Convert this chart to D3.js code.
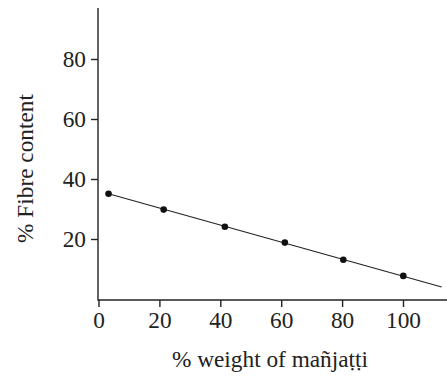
<!DOCTYPE html>
<html>
<head>
<meta charset="utf-8">
<script src="https://cdn.jsdelivr.net/npm/d3@7"></script>
<style>
	body { margin: 0; background: #fff; }
	svg { display: block; }
	text { font-family: "Liberation Serif", "DejaVu Serif", serif; fill: #222; }
</style>
</head>
<body>
<script>
// measured points
let weight = [3.3, 21.4, 41.5, 61.2, 80.4, 100.1]
let fibre = [35.1, 29.8, 24.1, 18.8, 13.1, 7.7]

// fitted line ends
let fitX = [3.3, 112.7]
let fitY = [35.1, 4.0]

let xTicks = [0, 20, 40, 60, 80, 100]
let yTicks = [20, 40, 60, 80]

let width = 447, height = 379
let fontSize = '23.3px'

let x = d3.scaleLinear().domain([0, 100]).range([98.5, 403])
let y = d3.scaleLinear().domain([0, 97]).range([299, 8])

let svg = d3.select('body').append('svg')
	.attr('width', width).attr('height', height)

// x axis
let xAxis = d3.axisBottom(x).tickValues(xTicks).tickSize(7).tickPadding(4).tickSizeOuter(0)
let gx = svg.append('g')
	.attr('transform', 'translate(0,300)')
	.call(xAxis)
gx.select('.domain').attr('d', `M${x(0) - 0.5},0H${width}`)
gx.selectAll('line, path').attr('stroke', '#222').attr('stroke-width', 1.4)
gx.selectAll('text').style('font-size', fontSize).style('font-family', '"Liberation Serif", serif').attr('fill', '#222')

// y axis
let yAxis = d3.axisLeft(y).tickValues(yTicks).tickSize(7).tickPadding(5).tickSizeOuter(0)
let gy = svg.append('g')
	.attr('transform', 'translate(98,0)')
	.call(yAxis)
gy.select('.domain').attr('d', `M0,${y(97)}V300.7`)
gy.selectAll('line, path').attr('stroke', '#222').attr('stroke-width', 1.4)
gy.selectAll('text').style('font-size', fontSize).style('font-family', '"Liberation Serif", serif').attr('fill', '#222')

// fitted line
let line = d3.line().x(d => x(d[0])).y(d => y(d[1]))
svg.append('path')
	.datum(d3.zip(fitX, fitY))
	.attr('d', line)
	.attr('fill', 'none').attr('stroke', '#222').attr('stroke-width', 1.1)

// points
svg.selectAll('circle.pt')
	.data(d3.zip(weight, fibre))
	.enter().append('circle')
	.attr('class', 'pt')
	.attr('cx', d => x(d[0])).attr('cy', d => y(d[1]))
	.attr('r', 3.3)
	.attr('fill', '#111')

// axis titles
svg.append('text')
	.attr('x', 270).attr('y', 367)
	.attr('text-anchor', 'middle')
	.style('font-size', fontSize)
	.text('% weight of mañjaṭṭi')

svg.append('text')
	.attr('transform', 'translate(33,168.5) rotate(-90)')
	.attr('text-anchor', 'middle')
	.style('font-size', fontSize)
	.text('% Fibre content')
</script>
</body>
</html>
